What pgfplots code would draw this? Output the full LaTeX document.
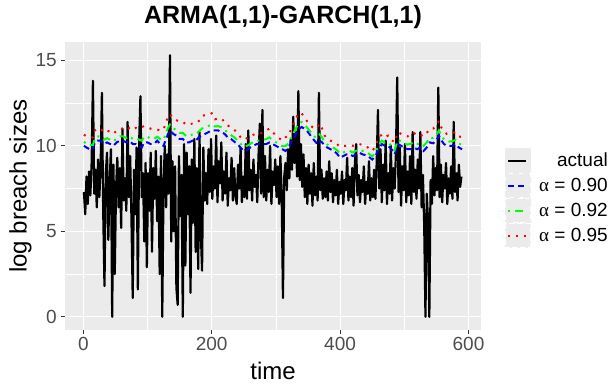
\documentclass[border=0pt]{standalone}
\usepackage{pgfplots}
\pgfplotsset{compat=1.18}
\usepackage{pgfplotstable}
\usepackage{fontspec}
\setmainfont{Liberation Sans}
\newfontfamily\alphafont{Liberation Serif}
\definecolor{panelgrey}{HTML}{EBEBEB}
\definecolor{grey30}{HTML}{4D4D4D}
\definecolor{grey20}{HTML}{333333}
\definecolor{rblue}{HTML}{0000FF}
\definecolor{rgreen}{HTML}{00FF00}
\definecolor{rred}{HTML}{FF0000}

\pgfplotstableread{
t v
1 7.3
3 6.0
5 8.2
7 6.6
9 8.5
11 7.1
13 9.0
15 13.8
17 7.2
19 8.6
21 6.4
23 9.2
25 7.0
27 8.8
29 13.1
31 6.2
33 1.8
35 8.4
37 9.6
39 4.5
41 7.8
43 9.8
45 0.0
47 8.9
49 2.5
51 7.5
53 9.3
55 6.4
57 8.7
59 5.2
61 11.0
63 6.8
65 8.1
67 6.2
69 11.4
71 7.0
73 9.4
75 5.8
77 1.1
79 8.6
81 6.0
83 9.9
85 1.6
87 10.2
89 12.9
91 7.0
93 8.4
95 4.4
97 9.0
99 2.9
101 8.4
103 6.2
105 9.6
107 3.8
109 8.7
111 6.9
113 9.7
115 5.6
117 8.2
119 2.5
121 9.4
123 0.0
125 7.8
127 10.0
129 6.4
131 9.5
133 7.2
135 15.3
137 4.4
139 9.1
141 5.0
143 8.8
145 1.7
147 0.7
149 9.4
151 5.9
153 8.3
155 0.0
157 10.1
159 3.0
161 9.6
163 6.0
165 8.8
167 1.4
169 9.2
171 5.5
173 10.4
175 3.8
177 8.7
179 2.8
181 10.8
183 5.0
185 2.7
187 9.9
189 6.8
191 8.4
193 6.6
195 9.8
197 7.3
199 10.4
201 6.9
203 8.8
205 7.5
207 10.6
209 6.7
211 9.1
213 7.8
215 10.2
217 6.8
219 8.5
221 7.2
223 9.6
225 6.5
227 8.1
229 7.4
231 9.3
233 6.8
235 8.7
237 7.1
239 6.6
241 8.9
243 7.5
245 9.9
247 6.7
249 8.2
251 7.0
253 10.1
255 6.9
257 10.9
259 7.4
261 8.6
263 6.8
265 9.2
267 7.6
269 8.3
271 6.7
273 9.5
275 11.3
277 7.2
279 12.1
281 7.0
283 9.4
285 6.8
287 8.6
289 7.3
291 10.0
293 6.6
295 8.5
297 7.7
299 9.2
301 7.0
303 8.8
305 6.6
307 9.4
309 7.3
311 1.1
313 8.2
315 9.0
317 7.4
319 9.8
321 8.1
323 10.4
325 8.6
327 11.7
329 9.0
331 10.8
333 8.2
335 13.2
337 8.0
339 10.1
341 7.6
343 9.5
345 7.0
347 8.7
349 6.6
351 8.9
353 7.2
355 8.4
357 6.5
359 9.0
361 7.1
363 8.2
365 6.8
367 13.1
369 7.4
371 8.6
373 6.9
375 8.1
377 7.0
379 8.5
381 6.8
383 9.1
385 7.3
387 8.4
389 6.7
391 8.0
393 7.1
395 8.6
397 6.6
399 7.9
401 7.2
403 8.5
405 6.6
407 8.0
409 7.4
411 9.3
413 6.8
415 8.2
417 7.0
419 8.7
421 6.5
423 8.9
425 10.1
427 7.1
429 8.3
431 6.7
433 8.0
435 7.3
437 8.8
439 6.6
441 7.9
443 7.2
445 9.1
447 6.8
449 8.1
451 7.0
453 8.6
455 6.9
457 9.0
459 12.1
461 7.5
463 9.8
465 6.7
467 8.9
469 7.4
471 10.3
473 6.6
475 8.4
477 7.2
479 10.0
481 6.8
483 8.7
485 7.5
487 9.6
489 14.0
491 7.3
493 9.9
495 6.5
497 8.8
499 7.4
501 10.1
503 6.7
505 8.5
507 7.1
509 9.4
511 6.6
513 10.8
515 7.3
517 8.6
519 6.9
521 9.2
523 7.5
525 10.8
527 6.4
529 8.3
531 5.4
533 0.0
535 7.2
537 5.6
539 0.0
541 8.0
543 6.6
545 9.4
547 7.1
549 8.7
551 7.4
553 13.4
555 7.0
557 8.9
559 6.7
561 8.3
563 7.5
565 9.0
567 6.6
569 8.1
571 7.2
573 8.8
575 6.9
577 11.4
579 7.3
581 8.4
583 6.8
585 8.9
587 7.6
589 8.2
}\actualtab

\pgfplotstableread{
t b g r
1 10.0 10.23 10.65
5 9.9 10.13 10.55
10 9.8 10.05 10.5
15 9.8 10.05 10.5
18 10.2 10.45 10.9
22 10.3 10.55 11.0
27 10.3 10.55 11.0
32 10.1 10.35 10.8
37 10.2 10.45 10.9
42 10.1 10.35 10.8
47 10.0 10.25 10.7
52 10.2 10.45 10.9
57 10.3 10.55 11.0
62 10.3 10.55 11.0
67 10.2 10.45 10.9
72 10.3 10.57 11.05
77 10.1 10.40 10.95
82 10.1 10.44 11.05
87 10.0 10.36 11.0
91 9.9 10.3 11.1
95 10.2 10.54 11.15
100 10.2 10.52 11.1
105 10.1 10.42 11.0
110 10.1 10.4 10.95
115 10.3 10.53 10.95
120 10.1 10.39 10.9
125 10.0 10.34 10.95
129 10.4 10.76 11.4
132 10.7 11.06 11.7
135 10.9 11.24 11.85
140 10.7 11.02 11.6
145 10.6 10.92 11.5
150 10.4 10.76 11.4
155 10.4 10.76 11.4
160 10.2 10.58 11.25
165 10.2 10.58 11.25
170 10.3 10.66 11.3
175 10.3 10.66 11.3
180 10.5 10.84 11.45
185 10.6 11.01 11.75
190 10.7 11.09 11.8
195 10.8 11.16 11.8
200 10.9 11.26 11.9
205 10.9 11.13 11.55
210 10.9 11.15 11.6
215 10.8 11.09 11.6
220 10.7 10.95 11.4
225 10.5 10.75 11.2
230 10.4 10.63 11.05
235 10.25 10.5 10.95
240 10.1 10.33 10.75
245 9.9 10.11 10.5
250 9.7 9.93 10.35
255 9.75 10.0 10.45
260 9.9 10.11 10.5
265 10.0 10.23 10.65
270 10.1 10.31 10.7
275 10.1 10.31 10.7
280 10.1 10.35 10.8
285 10.1 10.39 10.9
290 10.2 10.49 11.0
295 10.1 10.35 10.8
300 10.0 10.21 10.6
305 9.9 10.1 10.45
310 9.8 9.98 10.3
315 9.7 9.99 10.5
320 9.9 10.15 10.6
325 10.3 10.59 11.1
330 10.6 10.92 11.5
335 10.95 11.29 11.9
340 11.1 11.39 11.9
345 11.0 11.23 11.65
350 10.8 11.0 11.35
355 10.55 10.76 11.15
360 10.3 10.55 11.0
365 10.1 10.46 11.1
368 10.3 10.66 11.3
372 10.2 10.49 11.0
376 10.0 10.21 10.6
380 9.9 10.08 10.4
385 9.8 9.98 10.3
390 9.7 9.88 10.2
395 9.55 9.75 10.1
400 9.3 9.53 9.95
405 9.4 9.61 10.0
410 9.5 9.68 10.0
415 9.5 9.7 10.05
420 9.4 9.61 10.0
425 9.5 9.71 10.1
430 9.6 9.78 10.1
435 9.5 9.7 10.05
440 9.45 9.65 10.0
445 9.35 9.53 9.85
450 9.2 9.38 9.7
455 9.4 9.6 9.95
460 9.8 10.05 10.5
465 10.1 10.3 10.65
470 10.0 10.18 10.5
475 10.0 10.21 10.6
480 9.8 10.0 10.35
485 9.5 9.75 10.2
490 10.1 10.35 10.8
495 10.0 10.25 10.7
500 9.9 10.15 10.6
505 9.8 10.07 10.55
510 9.8 10.12 10.7
515 9.9 10.2 10.75
520 9.8 10.09 10.6
525 9.9 10.17 10.65
530 9.7 10.0 10.55
535 9.9 10.2 10.75
540 10.2 10.49 11.0
545 10.15 10.45 11.0
550 10.3 10.62 11.2
554 10.6 10.9 11.45
558 10.3 10.57 11.05
562 10.1 10.37 10.85
566 10.0 10.25 10.7
570 10.0 10.25 10.7
575 10.0 10.27 10.75
580 10.1 10.35 10.8
585 9.9 10.13 10.55
590 9.8 10.05 10.5
}\quanttab

\begin{document}
\begin{tikzpicture}
\begin{axis}[
  scale only axis,
  width=416pt, height=288pt,
  xmin=-28.5, xmax=619.5, ymin=-0.77, ymax=16.07,
  axis background/.style={fill=panelgrey},
  axis line style={draw=none},
  xtick={0,200,400,600}, ytick={0,5,10,15},
  minor xtick={100,300,500}, minor ytick={2.5,7.5,12.5},
  grid=both,
  major grid style={white, line width=1.1pt},
  minor grid style={white, line width=0.55pt},
  tick pos=left,
  tick align=outside,
  major tick length=4pt, minor tick length=0pt,
  every tick/.style={grey20, line width=1.1pt},
  /pgf/number format/assume math mode=true,
  tick label style={font=\fontsize{19}{19}\selectfont, text=grey30, inner sep=0pt},
  xticklabel style={yshift=-3pt},
  yticklabel style={xshift=-4pt},
  xlabel={time}, ylabel={log breach sizes},
  label style={font=\fontsize{24}{24}\selectfont},
  xlabel style={at={(axis description cs:0.5,-0.1736)}, anchor=base},
  ylabel style={at={(axis description cs:-0.0925,0.5)}, anchor=base, rotate=0},
  title={ARMA(1,1)-GARCH(1,1)},
  title style={font=\bfseries\fontsize{25}{25}\selectfont, at={(axis description cs:0.524,1)}, anchor=base, yshift=12pt},
  legend cell align=right,
  legend style={at={(axis description cs:1.3053,0.632)}, anchor=north east,
    draw=none, fill=none, inner sep=0pt, row sep=0pt, column sep=0pt,
    font=\fontsize{19}{19}\selectfont, nodes={inner sep=0pt}},
  legend image code/.code={%
    \fill[panelgrey] (-2pt,-11.5pt) rectangle (22pt,11.5pt);
    \path (30pt,0pt);
    \draw[#1] (0pt,0pt) -- (18pt,0pt);},
]
\addplot[black, line width=2.2pt, line join=round] table[x=t, y=v] {\actualtab};
\addlegendentry{actual}
\addplot[rblue, line width=2pt, dash pattern=on 6pt off 4pt] table[x=t, y=b] {\quanttab};
\addlegendentry{{\alphafont α} = 0.90}
\addplot[rgreen, line width=2pt, dash pattern=on 2pt off 5pt on 8pt off 5pt] table[x=t, y=g] {\quanttab};
\addlegendentry{{\alphafont α} = 0.92}
\addplot[rred, line width=2pt, dash pattern=on 2pt off 6pt] table[x=t, y=r] {\quanttab};
\addlegendentry{{\alphafont α} = 0.95}
\end{axis}
\pgfresetboundingbox
\path[use as bounding box] (current axis.south west) ++(-65pt,-55pt) rectangle ++(611pt,385pt);
\end{tikzpicture}
\end{document}
